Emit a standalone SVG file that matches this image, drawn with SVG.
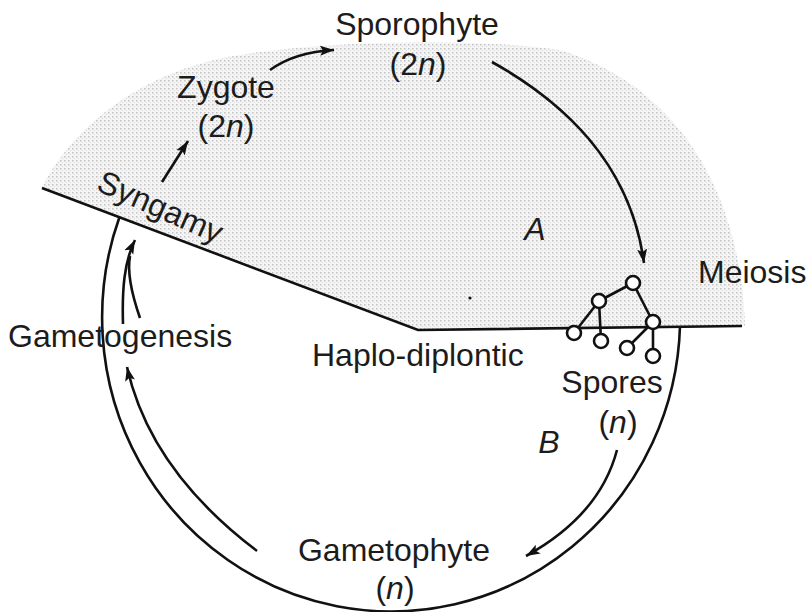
<svg xmlns="http://www.w3.org/2000/svg" width="809" height="612" viewBox="0 0 809 612">
<defs>
<pattern id="stip" width="4" height="4" patternUnits="userSpaceOnUse">
<rect width="4" height="4" fill="#f5f5f5"/>
<rect x="0" y="0" width="1.5" height="1.5" fill="#c2c2c2"/>
<rect x="2" y="2" width="1" height="1" fill="#dadada"/>
</pattern>
<marker id="ah" markerWidth="16" markerHeight="12" refX="14" refY="6" orient="auto" markerUnits="userSpaceOnUse">
<path d="M0,1 L14,6 L0,11 L3,6 Z" fill="#111"/>
</marker>
</defs>
<style>
text{font-family:"Liberation Sans",Arial,sans-serif;font-size:32px;fill:#1c1c1c}
.it{font-style:italic}
.ln{fill:none;stroke:#111;stroke-width:2.6}
.ar{fill:none;stroke:#111;stroke-width:2.6;marker-end:url(#ah)}
.sp{fill:#fff;stroke:#111;stroke-width:2.6}
</style>
<rect width="809" height="612" fill="#fff"/>
<g id="shading">
<path d="M42,188 C70,130 140,70 240,55 C330,40 480,38 560,50 C660,80 740,170 745,326 L418,330 Z" fill="url(#stip)"/>
<circle cx="470" cy="298" r="1.6" fill="#111"/>
</g>
<g id="frame">
<polyline class="ln" points="42,188 418,330 742,326" stroke-width="3"/>
<path class="ln" d="M119.5,217 A289,294 0 1 0 680,326"/>
</g>
<g id="connectors">
<path class="ar" d="M162,182 L188,141"/>
<path class="ar" d="M270,70 Q295,52 334,50"/>
<path class="ar" d="M492,62 C560,100 630,160 644,263"/>
<path class="ar" d="M617,450 Q600,515 526,556"/>
<path class="ar" d="M257,551 Q150,470 127,367"/>
<path class="ln" d="M140,318 C132,295 127,272 130,256"/>
<path class="ar" d="M123,324 C122,290 124,262 135,240"/>
</g>
<g id="spores">
<path class="ln" d="M633,283 L599,301 M633,283 L653,322 M599,301 L574,333 M599,301 L601,341 M653,322 L627,348 M653,322 L653,356"/>
<circle class="sp" cx="633" cy="283" r="7"/>
<circle class="sp" cx="599" cy="301" r="7"/>
<circle class="sp" cx="653" cy="322" r="7"/>
<circle class="sp" cx="574" cy="333" r="7"/>
<circle class="sp" cx="601" cy="341" r="7"/>
<circle class="sp" cx="627" cy="348" r="7"/>
<circle class="sp" cx="653" cy="356" r="7"/>
</g>
<g id="sporophyte">
<text x="417" y="35" text-anchor="middle">Sporophyte</text>
<text x="418" y="75" text-anchor="middle">(2<tspan class="it">n</tspan>)</text>
</g>
<g id="zygote">
<text x="226" y="98" text-anchor="middle">Zygote</text>
<text x="226" y="137" text-anchor="middle">(2<tspan class="it">n</tspan>)</text>
</g>
<g id="syngamy">
<text x="156" y="217" text-anchor="middle" transform="rotate(24 156 217)">Syngamy</text>
</g>
<g id="labelA"><text class="it" x="535" y="240" text-anchor="middle">A</text></g>
<g id="meiosis"><text x="698" y="283">Meiosis</text></g>
<g id="gametogenesis"><text x="8" y="347">Gametogenesis</text></g>
<g id="haplo"><text x="312" y="366">Haplo-diplontic</text></g>
<g id="spores-label">
<text x="612" y="393" text-anchor="middle">Spores</text>
<text x="618" y="433" text-anchor="middle">(<tspan class="it">n</tspan>)</text>
</g>
<g id="labelB"><text class="it" x="549" y="453" text-anchor="middle">B</text></g>
<g id="gametophyte">
<text x="394" y="561" text-anchor="middle">Gametophyte</text>
<text x="395" y="599" text-anchor="middle">(<tspan class="it">n</tspan>)</text>
</g>
</svg>
